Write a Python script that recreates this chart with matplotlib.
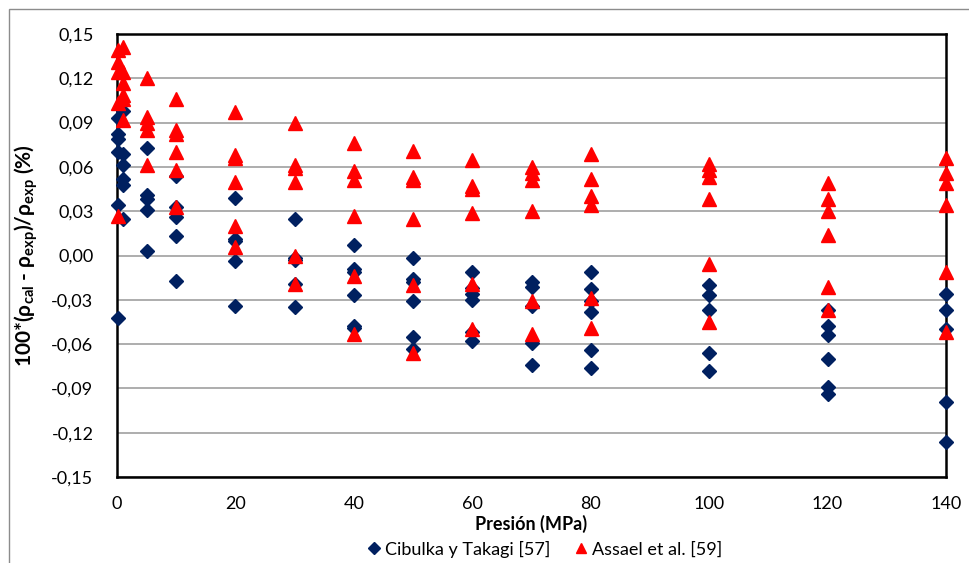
import numpy as np
import matplotlib
matplotlib.use("Agg")
import matplotlib.pyplot as plt
from matplotlib.patches import Rectangle
from matplotlib.ticker import FuncFormatter

plt.rcParams['font.family'] = ['Lato', 'DejaVu Sans']
plt.rcParams['mathtext.fontset'] = 'custom'
plt.rcParams['mathtext.rm'] = 'Lato'
plt.rcParams['mathtext.bf'] = 'Lato:bold'

# Cibulka y Takagi [57]: pressure (MPa) -> deviations (%)
cib_p = [0.1, 1, 5, 10, 20, 30, 40, 50, 60, 70, 80, 100, 120, 140]
cib_dev = [
    [0.093, 0.082, 0.079, 0.070, 0.034, -0.042],
    [0.098, 0.069, 0.061, 0.052, 0.048, 0.025],
    [0.073, 0.041, 0.038, 0.031, 0.003],
    [0.054, 0.033, 0.026, 0.013, -0.017],
    [0.039, 0.011, 0.010, -0.004, -0.034],
    [0.025, -0.002, -0.003, -0.019, -0.035],
    [0.007, -0.009, -0.011, -0.027, -0.048, -0.049],
    [-0.002, -0.016, -0.018, -0.031, -0.055, -0.063],
    [-0.011, -0.022, -0.026, -0.030, -0.052, -0.058],
    [-0.018, -0.021, -0.034, -0.059, -0.074],
    [-0.011, -0.023, -0.031, -0.038, -0.064, -0.076],
    [-0.020, -0.027, -0.037, -0.066, -0.078],
    [-0.037, -0.048, -0.054, -0.070, -0.089, -0.094],
    [-0.026, -0.037, -0.050, -0.099, -0.126],
]

# Assael et al. [59]
ass_p = [0.1, 1, 5, 10, 20, 30, 40, 50, 60, 70, 80, 100, 120, 140]
ass_dev = [
    [0.139, 0.131, 0.124, 0.103, 0.027],
    [0.141, 0.124, 0.117, 0.109, 0.106, 0.092],
    [0.120, 0.094, 0.090, 0.085, 0.061],
    [0.106, 0.085, 0.082, 0.070, 0.058, 0.033],
    [0.097, 0.068, 0.066, 0.050, 0.020, 0.006],
    [0.090, 0.061, 0.059, 0.050, 0.000, -0.019],
    [0.076, 0.057, 0.051, 0.027, -0.014, -0.053],
    [0.071, 0.053, 0.051, 0.025, -0.020, -0.066],
    [0.065, 0.047, 0.045, 0.029, -0.019, -0.050],
    [0.060, 0.056, 0.051, 0.030, -0.031, -0.053],
    [0.069, 0.052, 0.040, 0.034, -0.029, -0.049],
    [0.062, 0.058, 0.053, 0.038, -0.006, -0.045],
    [0.049, 0.038, 0.030, 0.014, -0.021, -0.037],
    [0.066, 0.056, 0.049, 0.034, -0.011, -0.052],
]

x_ticks = [0, 20, 40, 60, 80, 100, 120, 140]
y_ticks = np.arange(-0.15, 0.1501, 0.03)


def flatten(ps, devs):
    xs, ys = [], []
    for p, d in zip(ps, devs):
        xs += [p] * len(d)
        ys += d
    return xs, ys


fig = plt.figure(figsize=(9.69, 5.63), dpi=100)
ax = fig.add_axes([117 / 969, 1 - 477 / 563, (946 - 117) / 969, (477 - 34) / 563])

# outer chart frame (only top/left fall inside the image)
fig.patches.append(Rectangle((9 / 969, -0.5), 2, 0.5 + (563 - 9) / 563,
                             transform=fig.transFigure, fill=False,
                             edgecolor='#8c8c8c', linewidth=1.0, clip_on=False))

cx, cy = flatten(cib_p, cib_dev)
axx, axy = flatten(ass_p, ass_dev)

ax.plot(cx, cy, linestyle='none', marker='D', ms=7.5, color='#002060',
        label='Cibulka y Takagi [57]', zorder=3, clip_on=False)
ax.plot(axx, axy, linestyle='none', marker='^', ms=10, color='#FF0000',
        label='Assael et al. [59]', zorder=4, clip_on=False)

ax.set_xlim(0, 140)
ax.set_ylim(-0.15, 0.15)
ax.set_xticks(x_ticks)
ax.set_yticks(y_ticks)
ax.yaxis.set_major_formatter(FuncFormatter(lambda v, pos: f"{v:.2f}".replace('.', ',').replace('-0,00', '0,00')))
ax.tick_params(length=0, labelsize=13)
ax.tick_params(axis='x', pad=14)
ax.tick_params(axis='y', pad=17)
ax.grid(axis='y', color='#a0a0a0', linewidth=1.2)
ax.set_axisbelow(True)
for s in ax.spines.values():
    s.set_linewidth(1.8)
    s.set_color('black')

ax.set_xlabel('Presión (MPa)', fontsize=13, fontweight='bold', labelpad=2)
ax.set_ylabel(r'100*(ρ$_{\mathbf{cal}}$ - ρ$_{\mathbf{exp}}$)/ρ$_{\mathbf{exp}}$ (%)',
              fontsize=15, fontweight='bold', labelpad=8)

fig.legend(*ax.get_legend_handles_labels(), loc='center',
           bbox_to_anchor=(0.561, 1 - 549 / 563), ncol=2, frameon=False,
           fontsize=13, handletextpad=0.1, columnspacing=1.2, markerscale=0.75,
           handlelength=1.0, borderpad=0)

fig.savefig('out.png', dpi=100)
